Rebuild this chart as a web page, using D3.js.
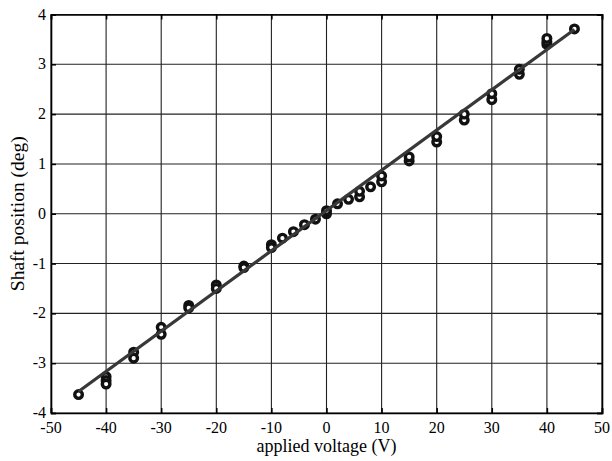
<!doctype html>
<html lang="en">
<head>
    <meta charset="UTF-8">
    <title>Shaft position vs applied voltage</title>
    <style>
        body { margin: 0; background: #fff; }
        svg text { font-family: "Liberation Serif", "Times New Roman", serif; fill: #000; }
    </style>
</head>
<body>
    <svg width="612" height="461"></svg>
    <script src="https://cdn.jsdelivr.net/npm/d3@7"></script>
    <script>
        // measured points (applied voltage, shaft position)
        const voltage = [-45, -40, -40, -40, -35, -35, -30, -30, -25, -25, -20, -20, -15, -15,
            -10, -10, -8, -6, -4, -2, 0, 0, 2, 4, 6, 6, 8, 10, 10, 15, 15, 20, 20,
            25, 25, 30, 30, 35, 35, 40, 40, 40, 45]
        const position = [-3.63, -3.27, -3.35, -3.42, -2.78, -2.9, -2.28, -2.42, -1.84, -1.89, -1.43, -1.5, -1.05, -1.08,
            -0.62, -0.68, -0.49, -0.36, -0.22, -0.11, 0.0, 0.06, 0.2, 0.29, 0.34, 0.45, 0.54, 0.64, 0.76, 1.06, 1.14, 1.44, 1.55,
            1.88, 2.0, 2.29, 2.41, 2.8, 2.9, 3.4, 3.45, 3.52, 3.71]
        // fitted line end points
        const fitVoltage = [-45, 45]
        const fitPosition = [-3.57, 3.70]

        const xTicks = [-50, -40, -30, -20, -10, 0, 10, 20, 30, 40, 50]
        const yTicks = [-4, -3, -2, -1, 0, 1, 2, 3, 4]

        const margin = {top: 14.5, right: 10, bottom: 48, left: 51}
        const width = 612 - margin.left - margin.right
        const height = 461 - margin.top - margin.bottom

        const svg = d3.select('svg')
        const g = svg.append('g')
            .attr('transform', `translate(${margin.left},${margin.top})`)

        const x = d3.scaleLinear().domain([-50, 50]).range([0, width])
        const y = d3.scaleLinear().domain([-4, 4]).range([height, 0])

        // grid
        g.append('g')
            .selectAll('line')
            .data(xTicks)
            .enter()
            .append('line')
            .attr('x1', d => x(d)).attr('x2', d => x(d))
            .attr('y1', 0).attr('y2', height)
            .attr('stroke', '#222')
            .attr('stroke-width', 1.1)
        g.append('g')
            .selectAll('line')
            .data(yTicks)
            .enter()
            .append('line')
            .attr('y1', d => y(d)).attr('y2', d => y(d))
            .attr('x1', 0).attr('x2', width)
            .attr('stroke', '#222')
            .attr('stroke-width', 1.1)

        // axes with inward ticks on all sides
        const noLabel = () => ''
        g.append('g').attr('transform', `translate(0,${height})`)
            .call(d3.axisBottom(x).tickValues(xTicks).tickSize(-5).tickFormat(noLabel))
        g.append('g')
            .call(d3.axisTop(x).tickValues(xTicks).tickSize(-5).tickFormat(noLabel))
        g.append('g')
            .call(d3.axisLeft(y).tickValues(yTicks).tickSize(-5).tickFormat(noLabel))
        g.append('g').attr('transform', `translate(${width},0)`)
            .call(d3.axisRight(y).tickValues(yTicks).tickSize(-5).tickFormat(noLabel))
        g.selectAll('.domain').attr('stroke', '#000').attr('stroke-width', 1.6)
        g.selectAll('.tick line').attr('stroke', '#000').attr('stroke-width', 1.5)

        // tick labels
        g.append('g')
            .selectAll('text')
            .data(xTicks)
            .enter()
            .append('text')
            .attr('x', d => x(d))
            .attr('y', height + 20)
            .attr('text-anchor', 'middle')
            .style('font-size', '16px')
            .text(d => String(d))
        g.append('g')
            .selectAll('text')
            .data(yTicks)
            .enter()
            .append('text')
            .attr('x', -5)
            .attr('y', d => y(d) + 5)
            .attr('text-anchor', 'end')
            .style('font-size', '16px')
            .text(d => String(d))

        // axis titles
        g.append('text')
            .attr('x', width / 2)
            .attr('y', height + 39)
            .attr('text-anchor', 'middle')
            .style('font-size', '18px')
            .text('applied voltage (V)')
        g.append('text')
            .attr('transform', `translate(${24 - margin.left},${height / 2}) rotate(-90)`)
            .attr('text-anchor', 'middle')
            .style('font-size', '19.5px')
            .text('Shaft position (deg)')

        // points
        const points = voltage.map((v, i) => ({v, p: position[i]}))
        g.append('g')
            .selectAll('circle')
            .data(points)
            .enter()
            .append('circle')
            .attr('cx', d => x(d.v))
            .attr('cy', d => y(d.p))
            .attr('r', 3.8)
            .attr('fill', '#fff')
            .attr('stroke', '#111')
            .attr('stroke-width', 3.4)

        // fitted line
        const line = d3.line()
            .x((d, i) => x(fitVoltage[i]))
            .y(d => y(d))
        g.append('path')
            .datum(fitPosition)
            .attr('d', line)
            .attr('fill', 'none')
            .attr('stroke', '#383838')
            .attr('stroke-width', 3.2)
    </script>
</body>
</html>
